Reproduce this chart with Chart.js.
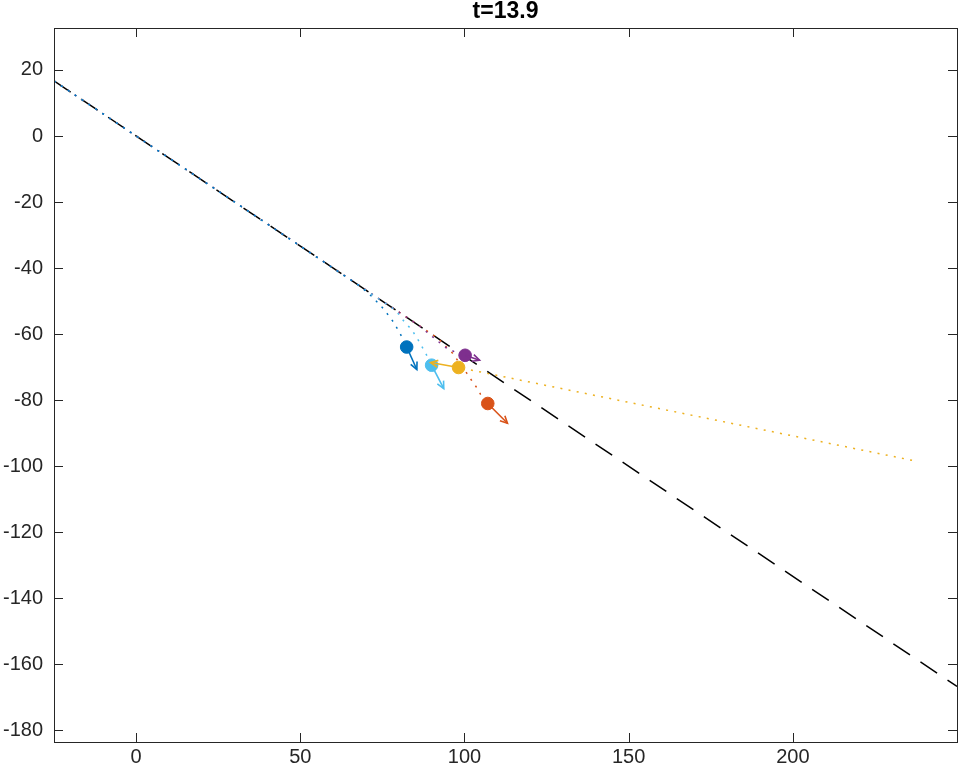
<!DOCTYPE html>
<html>
<head>
<meta charset="utf-8">
<script src="https://cdn.jsdelivr.net/npm/chart.js@4.4.0/dist/chart.umd.min.js"></script>
<style>
  body { margin: 0; background: #fff; }
  canvas { display: block; }
</style>
</head>
<body>
<canvas id="grafica" width="965" height="771"></canvas>
<script>
// ticks
const xTicks = [0, 50, 100, 150, 200];
const yTicks = [20, 0, -20, -40, -60, -80, -100, -120, -140, -160, -180];

// reference path (black dashed)
const pathX = [-25, 250];
const pathY = [16.67, -166.67];

// trails
const blueX = [-25, 68, 72, 75.5, 78.5, 80.5, 82.4];
const blueY = [16.67, -45.3, -48.8, -52.5, -56.5, -60, -63.9];
const cyanX = [-25, 79, 81.8, 84, 86.3, 88.4, 90];
const cyanY = [16.67, -52.7, -56.4, -58.7, -62.4, -66.2, -69.4];
const purpleX = [-25, 86, 90, 94.5, 97.6, 100.2];
const purpleY = [16.67, -57.3, -60.6, -64.2, -65.6, -66.4];
const orangeX = [-25, 92, 96.4, 100.7, 102.1, 103.6, 104.9, 107.1];
const orangeY = [16.67, -61.3, -65.8, -71.8, -73.9, -76, -78.2, -81];
const yellowX = [236.3, 98.2];
const yellowY = [-98.2, -70.1];

// agents now: blue, cyan, yellow, purple, orange
const agentX = [82.4, 90, 98.2, 100.2, 107.1];
const agentY = [-63.9, -69.4, -70.1, -66.4, -81];
const tipX = [85.5, 93.7, 89.7, 104.6, 113.1];
const tipY = [-70.7, -76.5, -68.6, -67.9, -87];
const colores = ["#0072BD", "#4DBEEE", "#EDB120", "#7E2F8E", "#D95319"];

const ejes = "#262626";
const fuente = { family: "Liberation Sans, Arial, sans-serif", size: 20 };

function puntos(xs, ys) {
  return xs.map((x, i) => ({ x: x, y: ys[i] }));
}

function rastro(xs, ys, color, orden) {
  return {
    data: puntos(xs, ys),
    showLine: true,
    borderColor: color,
    borderWidth: 1.5,
    borderDash: [2, 6.3],
    pointRadius: 0,
    fill: false,
    order: orden
  };
}

const datasets = [];
datasets.push({
  data: puntos(pathX, pathY),
  showLine: true,
  borderColor: "#000",
  borderWidth: 1.5,
  borderDash: [20, 12.6],
  pointRadius: 0,
  order: 20
});
datasets.push(rastro(orangeX, orangeY, colores[4], 14));
datasets.push(rastro(purpleX, purpleY, colores[3], 13));
datasets.push(rastro(cyanX, cyanY, colores[1], 12));
datasets.push(rastro(blueX, blueY, colores[0], 11));
datasets.push(rastro(yellowX, yellowY, colores[2], 10));

agentX.forEach((x, i) => {
  datasets.push({
    data: [{ x: x, y: agentY[i] }],
    backgroundColor: colores[i],
    borderColor: colores[i],
    borderWidth: 1,
    pointRadius: 6.3,
    showLine: false,
    order: 5
  });
});
agentX.forEach((x, i) => {
  datasets.push({
    data: [{ x: x, y: agentY[i] }, { x: tipX[i], y: tipY[i] }],
    showLine: true,
    borderColor: colores[i],
    borderWidth: 1.6,
    pointRadius: 0,
    flecha: true,
    order: 2
  });
});

const cajaYFlechas = {
  id: "cajaYFlechas",
  afterDatasetsDraw(chart) {
    const ctx = chart.ctx;
    ctx.save();
    chart.data.datasets.forEach((ds, i) => {
      if (!ds.flecha) return;
      const meta = chart.getDatasetMeta(i);
      const p0 = meta.data[0], p1 = meta.data[1];
      const ang = Math.atan2(p1.y - p0.y, p1.x - p0.x);
      const L = 8, a = 0.45;
      ctx.strokeStyle = ds.borderColor;
      ctx.lineWidth = 1.6;
      ctx.beginPath();
      ctx.moveTo(p1.x - L * Math.cos(ang - a), p1.y - L * Math.sin(ang - a));
      ctx.lineTo(p1.x, p1.y);
      ctx.lineTo(p1.x - L * Math.cos(ang + a), p1.y - L * Math.sin(ang + a));
      ctx.stroke();
    });
    ctx.restore();
  },
  afterDraw(chart) {
    const { ctx, chartArea: ca, scales } = chart;
    ctx.save();
    ctx.strokeStyle = ejes;
    ctx.lineWidth = 1;
    ctx.strokeRect(Math.round(ca.left) + 0.5, Math.round(ca.top) + 0.5,
      Math.round(ca.right - ca.left), Math.round(ca.bottom - ca.top));
    const t = 9;
    ctx.beginPath();
    xTicks.forEach(v => {
      const px = Math.round(scales.x.getPixelForValue(v)) + 0.5;
      ctx.moveTo(px, ca.bottom); ctx.lineTo(px, ca.bottom - t);
      ctx.moveTo(px, ca.top); ctx.lineTo(px, ca.top + t);
    });
    yTicks.forEach(v => {
      const py = Math.round(scales.y.getPixelForValue(v)) + 0.5;
      ctx.moveTo(ca.left, py); ctx.lineTo(ca.left + t, py);
      ctx.moveTo(ca.right, py); ctx.lineTo(ca.right - t, py);
    });
    ctx.stroke();
    ctx.restore();
  }
};

new Chart(document.getElementById("grafica").getContext("2d"), {
  type: "scatter",
  data: { datasets: datasets },
  options: {
    responsive: false,
    animation: false,
    layout: { padding: { left: 0, right: 8, top: 0, bottom: 0 } },
    plugins: {
      legend: { display: false },
      tooltip: { enabled: false },
      title: {
        display: true,
        text: "t=13.9",
        fullSize: false,
        color: "#000",
        font: { family: "Liberation Sans, Arial, sans-serif", size: 23, weight: "bold", lineHeight: 1 },
        padding: { top: 0, bottom: 5 }
      }
    },
    scales: {
      x: {
        type: "linear",
        min: -25,
        max: 250,
        afterBuildTicks: s => { s.ticks = xTicks.map(v => ({ value: v })); },
        afterFit: s => { s.height = 29; },
        ticks: { callback: v => String(v), color: ejes, font: fuente, padding: 3, maxRotation: 0 },
        grid: { display: false, drawTicks: false },
        border: { display: false }
      },
      y: {
        type: "linear",
        min: -183.5,
        max: 32.7,
        afterBuildTicks: s => { s.ticks = yTicks.map(v => ({ value: v })); },
        afterFit: s => { s.width = 54; },
        ticks: { callback: v => String(v), color: ejes, font: fuente, padding: 11 },
        grid: { display: false, drawTicks: false },
        border: { display: false }
      }
    }
  },
  plugins: [cajaYFlechas]
});
</script>
</body>
</html>
